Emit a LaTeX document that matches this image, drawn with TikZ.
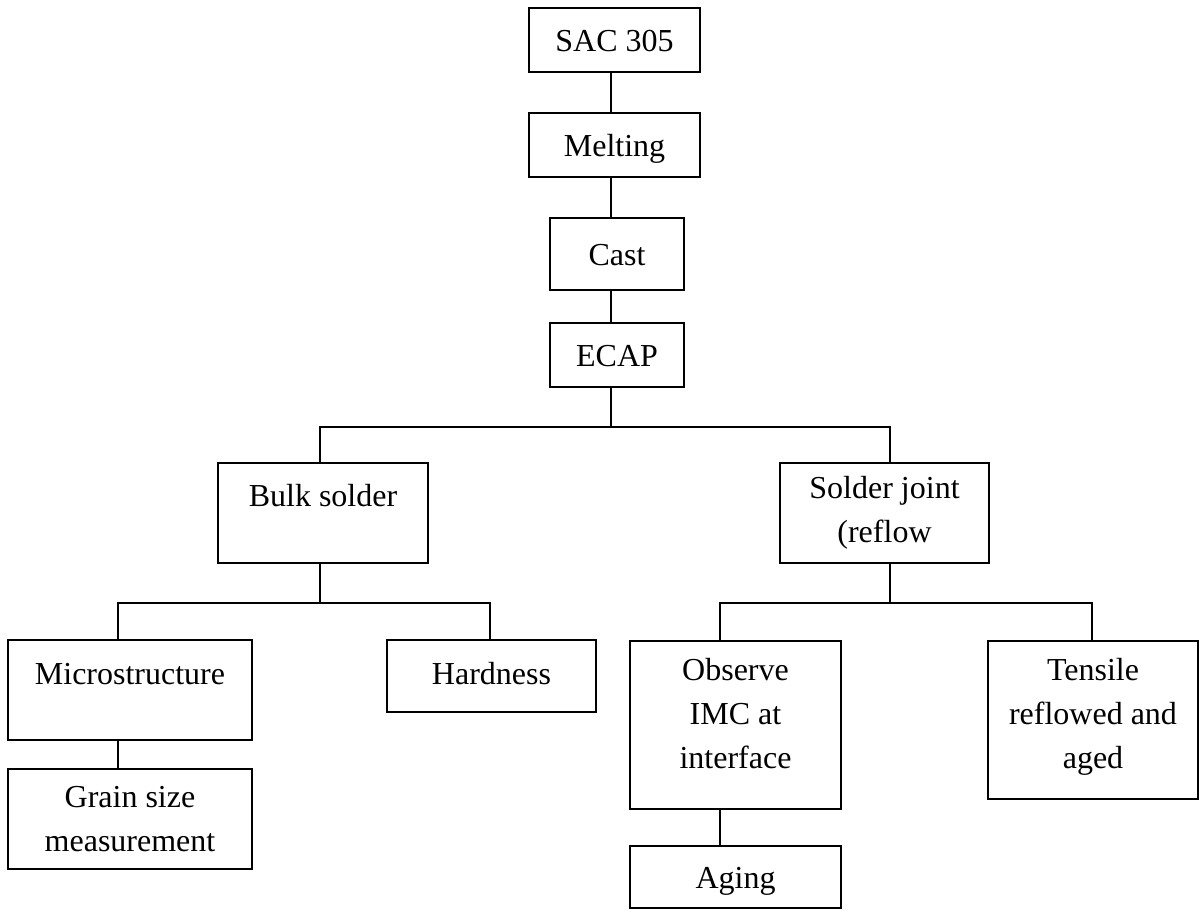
\documentclass[tikz,border=0pt]{standalone}
\usepackage{fontspec}
\setmainfont{Liberation Serif}
\begin{document}
\begin{tikzpicture}[x=0.5pt,y=-0.5pt,
  box/.style={draw,line width=1pt,inner sep=0pt,text height=11pt,text depth=0pt,font=\fontsize{16}{22}\selectfont},
  multibox/.style={box,align=center,text height=,text depth=},
  link/.style={line width=1pt}]
\useasboundingbox (0,0) rectangle (1202,916);

% columns of the connectors
\coordinate (trunk) at (611,0);
\coordinate (bulkx) at (320,0);
\coordinate (jointx) at (890,0);
\coordinate (microx) at (118,0);
\coordinate (hardx) at (490,0);
\coordinate (obsx) at (720,0);
\coordinate (tensx) at (1092,0);
% rows of the bars
\coordinate (topbar) at (0,427);
\coordinate (lowbar) at (0,603);

% main column
\node[box,minimum width=85.5pt,minimum height=32pt] (sac) at (614.5,40) {SAC 305};
\node[box,minimum width=85.5pt,minimum height=32pt] (melt) at (614.5,145) {Melting};
\node[box,minimum width=67pt,minimum height=36pt] (cast) at (617,254) {Cast};
\node[box,minimum width=67pt,minimum height=32pt] (ecap) at (617,355) {ECAP};
\draw[link] (sac.south -| trunk) -- (melt.north -| trunk);
\draw[link] (melt.south -| trunk) -- (cast.north -| trunk);
\draw[link] (cast.south -| trunk) -- (ecap.north -| trunk);

% first split
\node[box,minimum width=105pt,minimum height=50pt,text depth=18pt] (bulk) at (323,513) {Bulk solder};
\node[multibox,minimum width=104.5pt,minimum height=50pt] (joint) at (884.5,513) {Solder joint\\(reflow};
\draw[link] (ecap.south -| trunk) -- (topbar -| trunk);
\draw[link] (bulk.north -| bulkx) |- (topbar -| jointx) -- (joint.north -| jointx);

% bulk solder branch
\node[box,minimum width=122pt,minimum height=50pt,text depth=17pt] (micro) at (130,690) {Microstructure};
\node[box,minimum width=104.5pt,minimum height=36pt,text depth=3pt] (hard) at (491.5,676) {Hardness};
\node[multibox,minimum width=122pt,minimum height=50pt] (grain) at (130,819) {Grain size\\measurement};
\draw[link] (bulk.south -| bulkx) -- (lowbar -| bulkx);
\draw[link] (micro.north -| microx) |- (lowbar -| hardx) -- (hard.north -| hardx);
\draw[link] (micro.south -| microx) -- (grain.north -| microx);

% solder joint branch
\node[multibox,minimum width=105.5pt,minimum height=84pt] (observe) at (735.5,725) {Observe\\IMC at\\interface\\[-10pt]};
\node[multibox,minimum width=105pt,minimum height=79pt] (tensile) at (1093,720) {Tensile\\reflowed and\\aged\\[-15pt]};
\node[box,minimum width=105.5pt,minimum height=31pt] (aging) at (735.5,877) {Aging};
\draw[link] (joint.south -| jointx) -- (lowbar -| jointx);
\draw[link] (observe.north -| obsx) |- (lowbar -| tensx) -- (tensile.north -| tensx);
\draw[link] (observe.south -| obsx) -- (aging.north -| obsx);

\end{tikzpicture}
\end{document}
